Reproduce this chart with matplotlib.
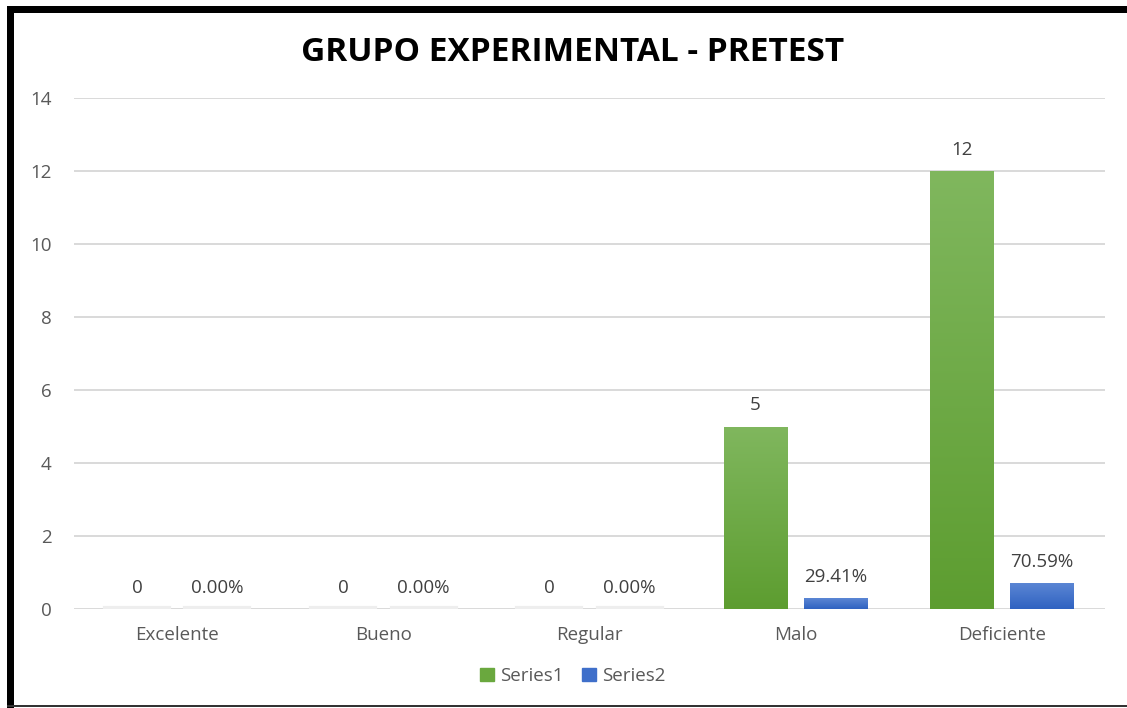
import numpy as np
import matplotlib.pyplot as plt
from matplotlib.patches import Rectangle
from matplotlib.colors import LinearSegmentedColormap

categories = ['Excelente', 'Bueno', 'Regular', 'Malo', 'Deficiente']
series1 = [0, 0, 0, 5, 12]
series2 = [0.0, 0.0, 0.0, 0.2941, 0.7059]
series1_labels = ['0', '0', '0', '5', '12']
series2_labels = ['0.00%', '0.00%', '0.00%', '29.41%', '70.59%']
yticks = [0, 2, 4, 6, 8, 10, 12, 14]

plt.rcParams['font.family'] = ['Open Sans', 'DejaVu Sans']

fig = plt.figure(figsize=(11.27, 7.08), dpi=100)
ax = fig.add_axes([0.0657, 0.1398, 0.9148, 0.7218])

x = np.arange(len(categories))
w = 0.31
off = 0.195

green_cm = LinearSegmentedColormap.from_list('g', ['#5d9d30', '#80b75e'])
blue_cm = LinearSegmentedColormap.from_list('b', ['#2f62c1', '#5b86d4'])


def grad_bars(xs, vals, cmap, solid):
    bars = ax.bar(xs, vals, w, color=solid, zorder=3, linewidth=0)
    for b in bars:
        h = b.get_height()
        if h <= 0:
            continue
        bx, by = b.get_x(), b.get_y()
        grad = np.linspace(0, 1, 256).reshape(-1, 1)
        im = ax.imshow(grad, cmap=cmap, origin='lower', aspect='auto',
                       extent=[bx, bx + w, by, by + h], zorder=4)
        im.set_clip_path(b)
    return bars


grad_bars(x - off, series1, green_cm, '#6aa83e')
grad_bars(x + off, series2, blue_cm, '#3f6fca')

# faint shadow marks for zero-valued bars
for i, v in enumerate(series1):
    if v == 0:
        ax.plot([x[i] - off - w / 2, x[i] - off + w / 2], [0.02, 0.02],
                color='#eeeeee', lw=3, zorder=2)
        ax.plot([x[i] + off - w / 2, x[i] + off + w / 2], [0.02, 0.02],
                color='#eeeeee', lw=3, zorder=2)

for i in range(len(categories)):
    ax.text(x[i] - off, series1[i] + 0.33, series1_labels[i], ha='center', va='bottom',
            fontsize=13.5, color='#404040', zorder=5)
    ax.text(x[i] + off, series2[i] + 0.33, series2_labels[i], ha='center', va='bottom',
            fontsize=13.5, color='#404040', zorder=5)

ax.set_xlim(-0.5, len(categories) - 0.5)
ax.set_ylim(0, 14)
ax.set_yticks(yticks)
ax.set_xticks(x)
ax.set_xticklabels(categories)
ax.grid(axis='y', color='#d9d9d9', lw=1.4, zorder=0)
ax.set_axisbelow(True)
for s in ax.spines.values():
    s.set_visible(False)
ax.tick_params(axis='both', length=0, labelsize=13.5, labelcolor='#595959')
ax.tick_params(axis='y', pad=16)
ax.tick_params(axis='x', pad=12)

fig.text(0.508, 0.926, 'GRUPO EXPERIMENTAL - PRETEST', ha='center', va='center',
         fontsize=24, fontweight='bold', color='#000000')

h1 = Rectangle((0, 0), 1, 1, color='#6aa83e')
h2 = Rectangle((0, 0), 1, 1, color='#3f6fca')
fig.legend([h1, h2], ['Series1', 'Series2'], loc='center', bbox_to_anchor=(0.508, 0.045),
           ncol=2, frameon=False, fontsize=13.5, labelcolor='#595959',
           handlelength=0.75, handleheight=0.75, handletextpad=0.3, columnspacing=1.0)

# frame around the chart
W, H = 1127, 708
fig.add_artist(Rectangle((7 / W, 0), 7 / W, 1 - 6 / H, transform=fig.transFigure,
                         color='black', lw=0))
fig.add_artist(Rectangle((7 / W, 1 - 13 / H), 1, 7 / H, transform=fig.transFigure,
                         color='black', lw=0))
fig.add_artist(Rectangle((7 / W, 1 / H), 1, 2 / H, transform=fig.transFigure,
                         color='#333333', lw=0))

fig.savefig('out.png', dpi=100)
